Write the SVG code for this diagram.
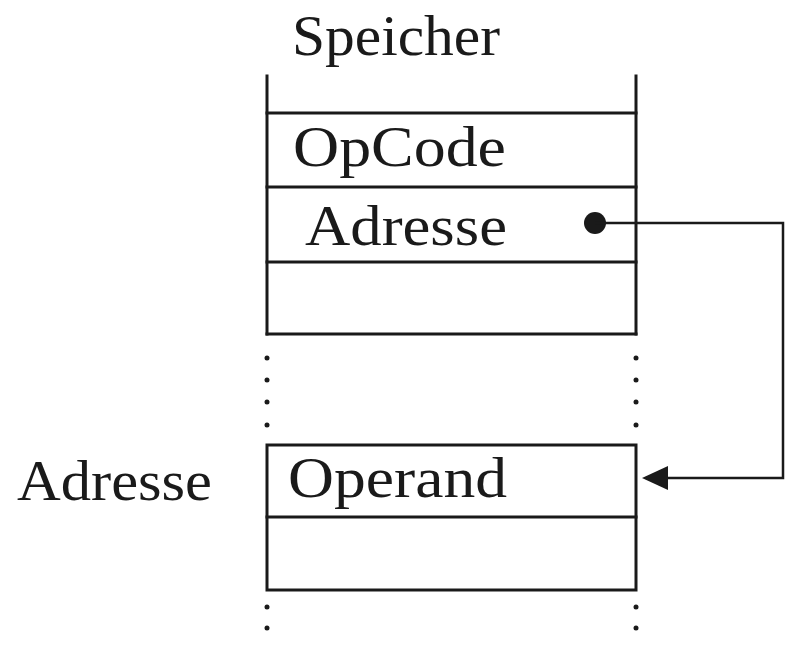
<svg xmlns="http://www.w3.org/2000/svg" width="793" height="645" viewBox="0 0 793 645">
  <style>
    .ln { stroke: #1a1a1a; stroke-width: 3; fill: none; stroke-linecap: square; }
    .cn { stroke: #1a1a1a; stroke-width: 2.5; fill: none; }
    .tx { font-family: "Liberation Serif", "Times New Roman", serif; font-size: 58px; fill: #1a1a1a; }
    .dot { fill: #1a1a1a; }
  </style>
  <defs>
    <marker id="arr" markerWidth="12" markerHeight="10" refX="12" refY="5" orient="auto" markerUnits="userSpaceOnUse" viewBox="0 0 12 10">
      <path d="M0,0 L12,5 L0,10 Z" fill="#1a1a1a"/>
    </marker>
  </defs>
  <rect width="793" height="645" fill="#ffffff"/>

  <g id="title">
    <text class="tx" x="292" y="55" textLength="208" lengthAdjust="spacingAndGlyphs">Speicher</text>
  </g>

  <g id="memory-top">
    <line class="ln" x1="267" y1="76" x2="267" y2="334"/>
    <line class="ln" x1="636" y1="76" x2="636" y2="334"/>
    <line class="ln" x1="267" y1="113" x2="636" y2="113"/>
    <line class="ln" x1="267" y1="187" x2="636" y2="187"/>
    <line class="ln" x1="267" y1="262" x2="636" y2="262"/>
    <line class="ln" x1="267" y1="334" x2="636" y2="334"/>
  </g>

  <g id="cell-opcode">
    <text class="tx" x="293" y="166" textLength="213" lengthAdjust="spacingAndGlyphs">OpCode</text>
  </g>

  <g id="cell-adresse">
    <text class="tx" x="305" y="245" textLength="202" lengthAdjust="spacingAndGlyphs">Adresse</text>
    <circle class="dot" cx="595" cy="223" r="11"/>
  </g>

  <g id="dots-middle">
    <circle class="dot" cx="267" cy="358" r="2.5"/>
    <circle class="dot" cx="267" cy="380" r="2.5"/>
    <circle class="dot" cx="267" cy="402" r="2.5"/>
    <circle class="dot" cx="267" cy="425" r="2.5"/>
    <circle class="dot" cx="636" cy="358" r="2.5"/>
    <circle class="dot" cx="636" cy="380" r="2.5"/>
    <circle class="dot" cx="636" cy="402" r="2.5"/>
    <circle class="dot" cx="636" cy="425" r="2.5"/>
  </g>

  <g id="memory-bottom">
    <rect class="ln" x="267" y="445" width="369" height="145"/>
    <line class="ln" x1="267" y1="517" x2="636" y2="517"/>
  </g>

  <g id="cell-operand">
    <text class="tx" x="288" y="497" textLength="219" lengthAdjust="spacingAndGlyphs">Operand</text>
  </g>

  <g id="label-adresse">
    <text class="tx" x="17" y="500" textLength="195" lengthAdjust="spacingAndGlyphs">Adresse</text>
  </g>

  <g id="dots-bottom">
    <circle class="dot" cx="267" cy="607" r="2.5"/>
    <circle class="dot" cx="267" cy="628" r="2.5"/>
    <circle class="dot" cx="636" cy="607" r="2.5"/>
    <circle class="dot" cx="636" cy="628" r="2.5"/>
  </g>

  <g id="connectors">
    <polyline class="cn" points="595,223 783,223 783,478 668,478"/>
    <path d="M642,478 L668,466 L668,490 Z" fill="#1a1a1a"/>
  </g>
</svg>
